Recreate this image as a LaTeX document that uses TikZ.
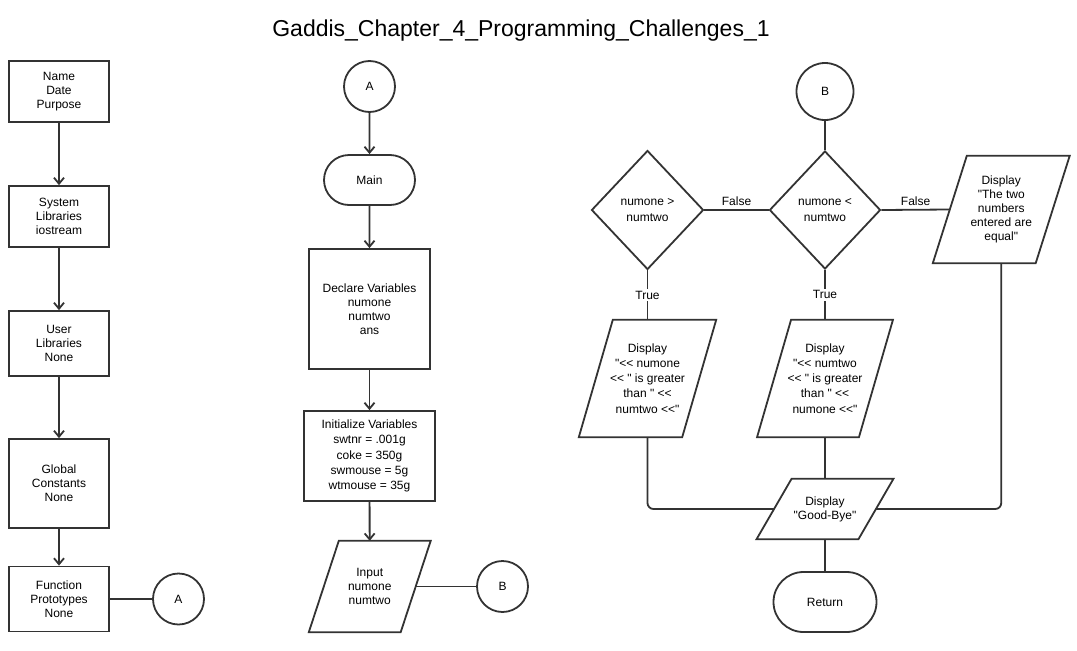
\documentclass[tikz,border=0pt]{standalone}
\usepackage{fontspec}
\setmainfont{Liberation Sans}[Ligatures=TeXOff]
\usetikzlibrary{shapes.geometric,shapes.misc,arrows.meta}
\tikzset{
  every node/.style = {font=\fontsize{12}{14}\selectfont, align=center},
  edge/.style = {draw=black!80, line width=1.8pt},
  arr/.style = {edge, -{Straight Barb[length=6pt,width=10pt]}},
  proc/.style 2 args = {edge, rectangle, inner sep=0pt,
                minimum width=#1, minimum height=#2},
  term/.style 2 args = {edge, rounded rectangle, inner sep=0pt,
                minimum width=#1, minimum height=#2},
  dec/.style 2 args = {edge, diamond, inner sep=0pt,
                minimum width=#1, minimum height=#2},
  io/.style 2 args = {rectangle, inner sep=0pt,
                minimum width=#1, minimum height=#2},
  conn/.style = {edge, circle, inner sep=0pt, minimum size=#1},
  conn/.default = 51pt
}

\begin{document}
\begin{tikzpicture}[x=1pt, y=-1pt]
	\useasboundingbox (0,0) rectangle (1077,651);
	\def \colA{59}
	\def \colB{369.5}
	\def \colC{647.5}
	\def \colD{825}
	\def \wide{15.2}

	% Title
	\node[anchor=base, font=\fontsize{23}{27}\selectfont] (title) at (521,36)
		{Gaddis\_Chapter\_4\_Programming\_Challenges\_1};

	% Header column
	\node[proc={100pt}{61pt}] (head) at (\colA,91.5) {Name\\Date\\Purpose};
	\node[proc={100pt}{61pt}] (syslib) at (\colA,216.5) {System\\Libraries\\iostream};
	\node[proc={100pt}{65pt}] (usrlib) at (\colA,343.5) {User\\Libraries\\None};
	\node[proc={100pt}{89pt}] (glob) at (\colA,483.5) {Global\\Constants\\None};
	\node[proc={100pt}{65pt}] (proto) at (\colA,599) {Function\\Prototypes\\None};
	\node[conn] (outA) at (178.5,599) {A};

	% Main column
	\node[conn] (inA) at (\colB,86.5) {A};
	\node[term={91pt}{50pt}] (main) at (\colB,180) {Main};
	\node[proc={121pt}{120pt}] (decl) at (\colB,309) {Declare Variables\\numone\\numtwo\\ans};
	\node[proc={131pt}{90pt}, font=\fontsize{12}{\wide}\selectfont] (init) at (\colB,456)
		{Initialize Variables\\swtnr = .001g\\coke = 350g\\swmouse = 5g\\wtmouse = 35g};
	\node[io={91.5pt}{91pt}] (inp) at (369.75,586.5) {Input\\numone\\numtwo};
	\node[conn] (outB) at (502.5,586.5) {B};

	% Compare column
	\node[conn=57pt] (inB) at (\colD,91.5) {B};
	\node[dec={111pt}{118pt}, font=\fontsize{12}{16}\selectfont] (less) at (\colD,210) {numone <\\numtwo};
	\node[dec={112pt}{119pt}, font=\fontsize{12}{16}\selectfont] (great) at (\colC,210) {numone >\\numtwo};
	\node[io={102.5pt}{107pt}] (equal) at (1001.25,209.5)
		{Display\\"The two\\numbers\\entered are\\equal"};
	\node[io={103pt}{117pt}, font=\fontsize{12}{\wide}\selectfont] (showa) at (\colC,378.5)
		{Display\\"<< numone\\<< " is greater\\than " <<\\numtwo <<"};
	\node[io={101.5pt}{117pt}, font=\fontsize{12}{\wide}\selectfont] (showb) at (\colD,378.5)
		{Display\\"<< numtwo\\<< " is greater\\than " <<\\numone <<"};
	\node[io={101.5pt}{60pt}] (bye) at (\colD,509) {Display\\"Good-Bye"};
	\node[term={103pt}{60pt}] (ret) at (\colD,602) {Return};

	% Parallelograms
	\foreach \n/\s in {inp/30, equal/34, showa/34, showb/34, bye/35}
		\draw[edge] ([xshift=\s/2]\n.north west) -- ([xshift=\s/2]\n.north east)
			-- ([xshift=-\s/2]\n.south east) -- ([xshift=-\s/2]\n.south west) -- cycle;

	% Arrows
	\draw[arr] (head) -- (syslib);
	\draw[arr] (syslib) -- (usrlib);
	\draw[arr] (usrlib) -- (glob);
	\draw[arr] (glob) -- (proto);
	\draw[edge] (proto) -- (outA);
	\draw[arr] (inA) -- (main);
	\draw[arr] (main) -- (decl);
	\draw[arr] (decl) -- (init);
	\draw[arr] (init) -- (inp);
	\draw[edge] (inp.east) -- (outB);

	% Lines
	\draw[edge] (inB) -- (less);
	\draw[edge] (less) -- node[above] {False} (great);
	\draw[edge] (less.east) -- node[above] {False} (equal.west);
	\draw[edge] (great) -- node[fill=white, inner sep=2pt] {True} (showa);
	\draw[edge] (less) -- node[fill=white, inner sep=2pt] {True} (showb);
	\draw[edge, rounded corners=6pt] (showa.south) |- (bye.west);
	\draw[edge] (showb) -- (bye);
	\draw[edge, rounded corners=6pt] (equal.south) |- (bye.east);
	\draw[edge] (bye) -- (ret);

\end{tikzpicture}
\end{document}
